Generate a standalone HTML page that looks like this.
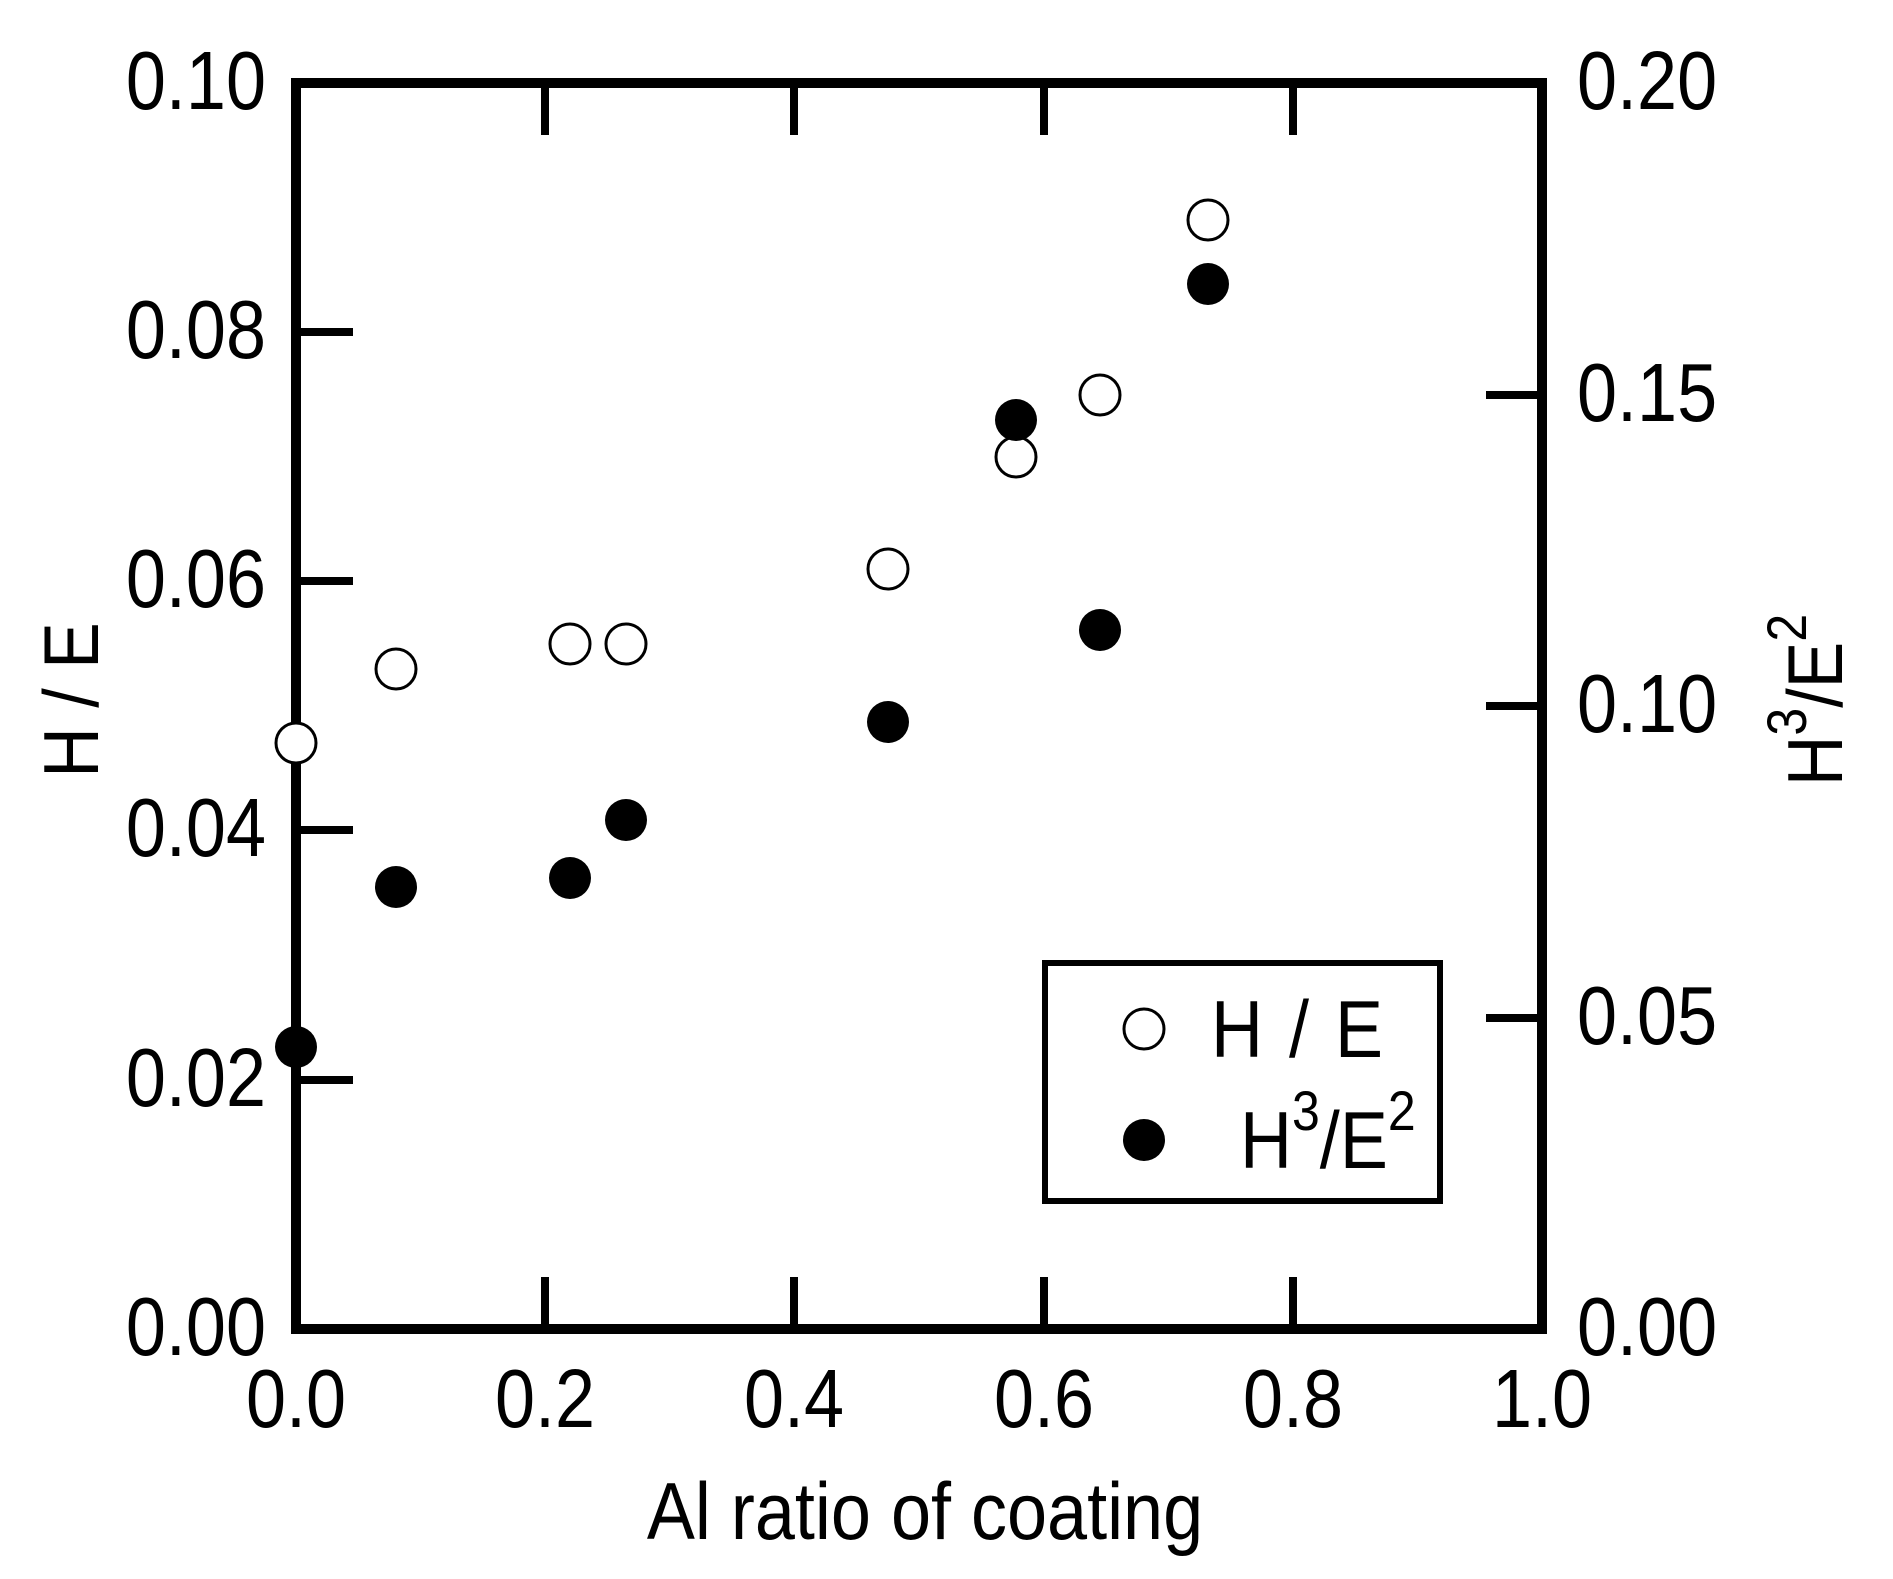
<!DOCTYPE html>
<html><head><style>body{margin:0;background:#fff}</style></head><body>
<svg width="1893" height="1574" xmlns="http://www.w3.org/2000/svg" font-family="Liberation Sans, sans-serif" fill="#000">
<g stroke="#000" stroke-width="8" fill="none">
<rect x="296" y="83" width="1246" height="1246" stroke-width="10"/>
<path d="M545 83v52M794 83v52M1044 83v52M1293 83v52M545 1329v-52M794 1329v-52M1044 1329v-52M1293 1329v-52"/>
<path d="M296 1080h57M296 830h57M296 581h57M296 332h57"/>
<path d="M1542 1018h-56M1542 706h-56M1542 395h-56"/>
</g>
<g font-size="72" text-anchor="end">
<text transform="translate(266,1355) scale(1,1.15)">0.00</text>
<text transform="translate(266,1106) scale(1,1.15)">0.02</text>
<text transform="translate(266,856) scale(1,1.15)">0.04</text>
<text transform="translate(266,607) scale(1,1.15)">0.06</text>
<text transform="translate(266,358) scale(1,1.15)">0.08</text>
<text transform="translate(266,109) scale(1,1.15)">0.10</text>
</g>
<g font-size="72" text-anchor="start">
<text transform="translate(1577,1355) scale(1,1.15)">0.00</text>
<text transform="translate(1577,1044) scale(1,1.15)">0.05</text>
<text transform="translate(1577,732) scale(1,1.15)">0.10</text>
<text transform="translate(1577,421) scale(1,1.15)">0.15</text>
<text transform="translate(1577,109) scale(1,1.15)">0.20</text>
</g>
<g font-size="72" text-anchor="middle">
<text transform="translate(296,1427) scale(1,1.15)">0.0</text>
<text transform="translate(545,1427) scale(1,1.15)">0.2</text>
<text transform="translate(794,1427) scale(1,1.15)">0.4</text>
<text transform="translate(1044,1427) scale(1,1.15)">0.6</text>
<text transform="translate(1293,1427) scale(1,1.15)">0.8</text>
<text transform="translate(1542,1427) scale(1,1.15)">1.0</text>
</g>
<text transform="translate(925,1539) scale(1,1.12)" font-size="72" text-anchor="middle">Al ratio of coating</text>
<text transform="translate(98,700) rotate(-90) scale(1,1.12)" font-size="70" text-anchor="middle">H / E</text>
<text transform="translate(1842,700) rotate(-90) scale(1,1.12)" font-size="70" text-anchor="middle">H<tspan font-size="50" dy="-32">3</tspan><tspan dy="32">/E</tspan><tspan font-size="50" dy="-32">2</tspan></text>
<g stroke="#000" stroke-width="3" fill="#fff">
<circle cx="296" cy="743" r="20"/><circle cx="396" cy="669" r="20"/><circle cx="570" cy="644" r="20"/><circle cx="626" cy="644" r="20"/><circle cx="888" cy="569" r="20"/><circle cx="1016" cy="457" r="20"/><circle cx="1100" cy="395" r="20"/><circle cx="1208" cy="220" r="20"/>
</g>
<g fill="#000">
<circle cx="296" cy="1047" r="21"/><circle cx="396" cy="887" r="21"/><circle cx="570" cy="878" r="21"/><circle cx="626" cy="820" r="21"/><circle cx="888" cy="722" r="21"/><circle cx="1016" cy="420" r="21"/><circle cx="1100" cy="630" r="21"/><circle cx="1208" cy="284" r="21"/>
</g>
<rect x="1045" y="963" width="395" height="238" fill="none" stroke="#000" stroke-width="6"/>
<circle cx="1144" cy="1029" r="20" fill="#fff" stroke="#000" stroke-width="3"/>
<circle cx="1144" cy="1140" r="21"/>
<text transform="translate(1211,1057) scale(1,1.12)" font-size="72" word-spacing="6">H / E</text>
<text transform="translate(1240,1168) scale(1,1.12)" font-size="72">H<tspan font-size="50" dy="-34">3</tspan><tspan dy="34">/E</tspan><tspan font-size="50" dy="-34">2</tspan></text>
</svg>
</body></html>
